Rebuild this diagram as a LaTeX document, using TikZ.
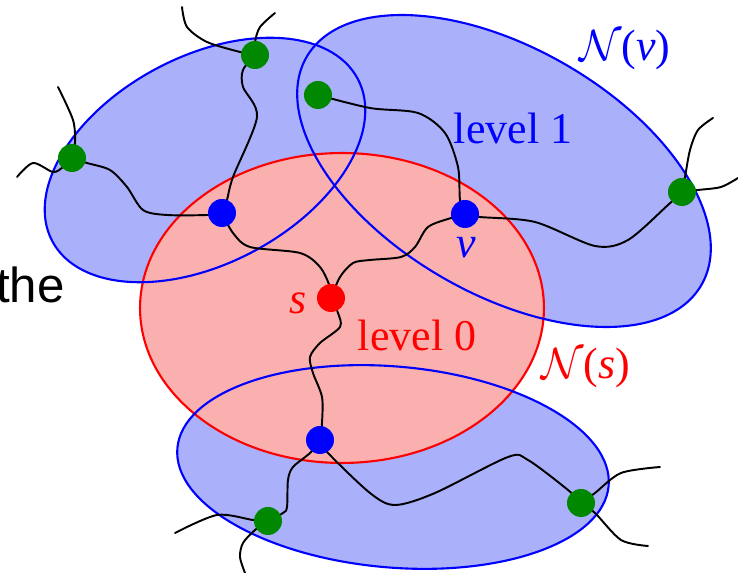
\documentclass[tikz,border=0pt]{standalone}
\usepackage{fontspec}
\setmainfont{Liberation Serif}
\newfontfamily\slidefont{Liberation Sans}
\usepackage{tikz}
\usetikzlibrary{backgrounds}
\definecolor{NbrBlue}{RGB}{170,176,250}
\definecolor{NbrRed}{RGB}{250,176,174}
\definecolor{DotGreen}{RGB}{0,136,0}

\begin{document}
\begin{tikzpicture}[
  x=0.02cm, y=-0.02cm,
  dot/.style={circle, inner sep=0pt, minimum size=0.56cm},
  src/.style={dot, fill=red},
  lvlone/.style={dot, fill=blue},
  lvltwo/.style={dot, fill=DotGreen},
  edge/.style={black, line width=1.1pt, line cap=round},
  nbhd/.style={line width=1.2pt},
  lbl/.style={font=\fontsize{25}{30}\selectfont, inner sep=0pt}
]
\useasboundingbox (0,0) rectangle (738,573);

% Vertices
\node[src]    (s)  at (331,298) {};
\node[lvlone] (b1) at (222,213) {};
\node[lvlone] (v)  at (465,214) {};
\node[lvlone] (b3) at (320,440) {};
\node[lvltwo] (g1) at (255,55)  {};
\node[lvltwo] (g2) at (318,95)  {};
\node[lvltwo] (g3) at (72,158)  {};
\node[lvltwo] (g4) at (682,192) {};
\node[lvltwo] (g5) at (268,521) {};
\node[lvltwo] (g6) at (581,503) {};

\begin{scope}[on background layer]
% Neighbourhoods: blue fills, red on top, blue rims last
\fill[NbrBlue, rotate around={28:(205,160)}] (205,160) ellipse [x radius=3.46cm, y radius=2.07cm];
\fill[NbrBlue, rotate around={-30:(504,171)}] (504,171) ellipse [x radius=4.56cm, y radius=2.46cm];
\fill[NbrBlue, rotate around={-5:(393,467)}] (393,467) ellipse [x radius=4.33cm, y radius=2.01cm];
\draw[nbhd, red, fill=NbrRed] (342,308) ellipse [x radius=4.04cm, y radius=3.1cm];
\draw[nbhd, blue, rotate around={28:(205,160)}] (205,160) ellipse [x radius=3.46cm, y radius=2.07cm];
\draw[nbhd, blue, rotate around={-30:(504,171)}] (504,171) ellipse [x radius=4.56cm, y radius=2.46cm];
\draw[nbhd, blue, rotate around={-5:(393,467)}] (393,467) ellipse [x radius=4.33cm, y radius=2.01cm];

% Edges
\draw[edge] plot[smooth] coordinates {(s) (330,287) (320,267) (300,253) (250,247) (233,233) (b1)};
\draw[edge] plot[smooth] coordinates {(s) (340,277) (353,263) (370,260) (401,257) (415,247) (428,227) (451,218) (v)};
\draw[edge] plot[smooth] coordinates {(s) (338,313) (340,327) (320,343) (310,357) (313,373) (322,397) (322,423) (b3)};
\draw[edge] plot[smooth] coordinates {(b1) (227,200) (233,177) (257,117) (243,87) (243,70) (g1)};
\draw[edge] plot[smooth] coordinates {(b1) (207,215) (167,215) (143,210) (127,187) (110,170) (87,163) (g3)};
\draw[edge] plot[smooth] coordinates {(g2) (370,108) (418,113) (445,133) (458,167) (460,200) (v)};
\draw[edge] plot[smooth] coordinates {(v) (480,217) (535,222) (595,246) (628,240) (668,205) (g4)};
\draw[edge] plot[smooth] coordinates {(b3) (310,453) (293,467) (288,480) (287,507) (283,513) (g5)};
\draw[edge] plot[smooth] coordinates {(b3) (328,453) (370,493) (395,505) (435,493) (508,457) (528,460) (568,490) (g6)};

% Loose ends
\draw[edge] plot[smooth] coordinates {(g3) (75,143) (73,120) (58,87)};
\draw[edge] plot[smooth] coordinates {(g3) (63,167) (53,172) (33,163) (17,177)};
\draw[edge] plot[smooth] coordinates {(g1) (240,52) (207,42) (187,27) (182,7)};
\draw[edge] plot[smooth] coordinates {(g1) (255,42) (260,27) (275,13)};
\draw[edge] plot[smooth] coordinates {(g4) (685,177) (690,150) (698,130) (713,118)};
\draw[edge] plot[smooth] coordinates {(g4) (698,190) (721,187) (738,178)};
\draw[edge] plot[smooth] coordinates {(g5) (253,520) (217,515) (175,533)};
\draw[edge] plot[smooth] coordinates {(g5) (255,530) (243,543) (240,557) (245,573)};
\draw[edge] plot[smooth] coordinates {(g6) (595,493) (621,473) (660,467)};
\draw[edge] plot[smooth] coordinates {(g6) (595,513) (621,540) (648,546)};
\end{scope}

% Labels
\node[lbl, text=blue] (lv1) at (513,128) {level 1};
\node[lbl, text=red]  (lv0) at (417,335) {level 0};
\node[lbl, text=red]  (ls)  at (298,303) {\textit{s}};
\node[lbl, text=blue] (lv)  at (466,248) {\textit{v}};
\node[lbl, text=blue] (nv)  at (625,50)  {$\mathcal{N}$(\textit{v})};
\node[lbl, text=red]  (ns)  at (586,368) {$\mathcal{N}$(\textit{s})};
\node[font=\slidefont\fontsize{28}{32}\selectfont, anchor=base east, inner sep=0pt]
  (the) at (65,303) {the};

\end{tikzpicture}
\end{document}
